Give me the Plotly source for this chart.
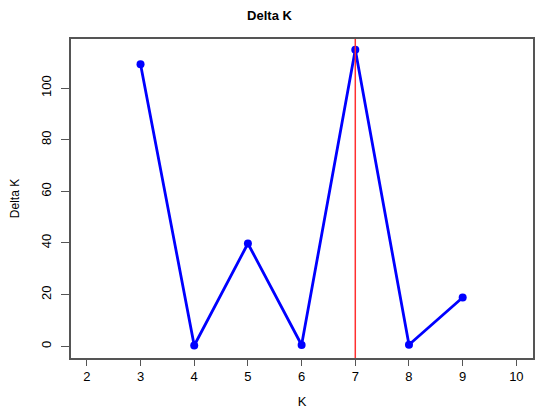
import plotly.graph_objects as go

k_values = [3, 4, 5, 6, 7, 8, 9]
delta_k = [109.2, 0.3, 39.8, 0.5, 114.8, 0.6, 18.9]
best_k = 7
x_ticks = [2, 3, 4, 5, 6, 7, 8, 9, 10]
y_ticks = [0, 20, 40, 60, 80, 100]

fig = go.Figure()
fig.add_trace(go.Scatter(
    x=k_values, y=delta_k, mode="lines+markers",
    line=dict(color="#0000FF", width=2.8),
    marker=dict(color="#0000FF", size=8),
    showlegend=False,
))
fig.add_shape(type="line", x0=best_k, x1=best_k, y0=0, y1=1, xref="x", yref="paper",
              line=dict(color="#FF3030", width=1.5))

fig.update_layout(
    width=550, height=413,
    margin=dict(l=71, r=17, t=39, b=55),
    plot_bgcolor="white", paper_bgcolor="white",
    font=dict(family="Liberation Sans, Arial, sans-serif", size=13, color="#000"),
    title=dict(text="<b>Delta K</b>", x=0.49, xanchor="center", y=1 - 15 / 413, yref="container",
               yanchor="middle", font=dict(size=13, color="#000")),
)
fig.update_xaxes(
    range=[1.705, 10.31], tickvals=x_ticks, ticktext=[str(v) for v in x_ticks],
    showgrid=False, zeroline=False, showline=True, linecolor="#555", linewidth=1.5, mirror=True,
    ticks="outside", ticklen=6, tickcolor="#555", automargin=False,
    title=dict(text="K", font=dict(size=13), standoff=14),
)
fig.update_yaxes(
    range=[-4.54, 119.0], tickvals=y_ticks, ticktext=[str(v) for v in y_ticks], tickangle=-90,
    showgrid=False, zeroline=False, showline=True, linecolor="#555", linewidth=1.5, mirror=True,
    ticks="outside", ticklen=8, tickcolor="#555", automargin=False, ticklabelstandoff=5,
    title=dict(text="Delta K", font=dict(size=12), standoff=17),
)
fig.write_html("out.html", config={"displayModeBar": False},
               post_script="document.body.style.margin='0';")
